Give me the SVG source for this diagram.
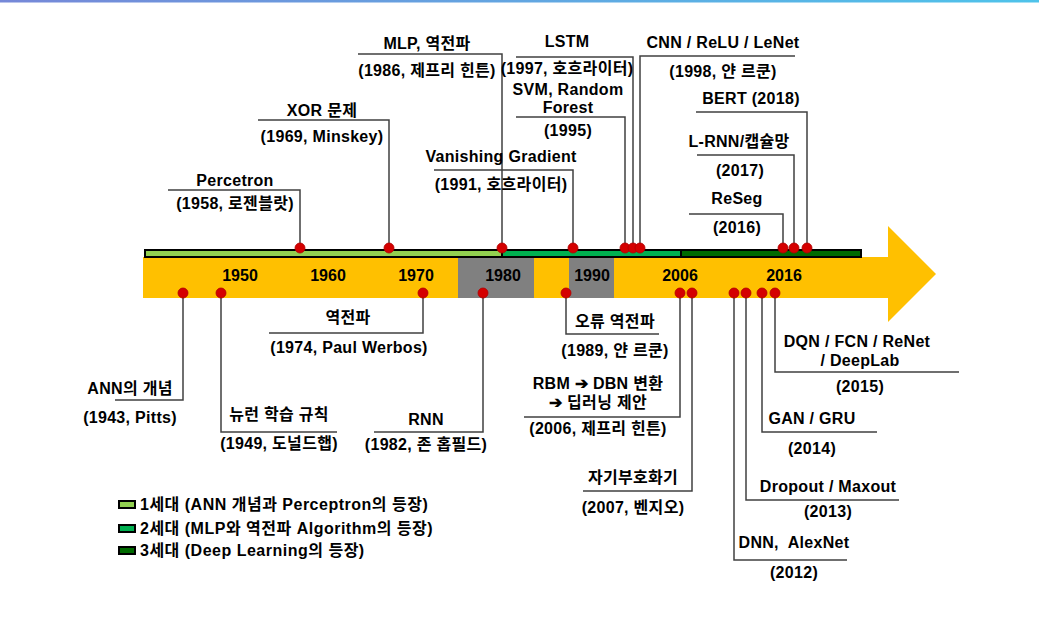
<svg xmlns="http://www.w3.org/2000/svg" width="1039" height="618" viewBox="0 0 1039 618">
<defs>
<linearGradient id="topbar" x1="0" y1="0" x2="1" y2="0">
<stop offset="0" stop-color="#7688d8"/>
<stop offset="1" stop-color="#4ec3ea"/>
</linearGradient>
<style>
text{font-family:'Liberation Sans','Noto Sans CJK KR',sans-serif;font-weight:bold;font-size:16px;fill:#000;text-anchor:middle;letter-spacing:0.3px}
.leg{text-anchor:start;letter-spacing:0.5px}
.conn path{fill:none;stroke:#404040;stroke-width:1.5}
.dot{fill:#d40000;stroke:#b00000;stroke-width:0.8}
.yr text{letter-spacing:0}
</style>
</defs>
<rect x="0" y="0" width="1039" height="2.5" fill="url(#topbar)"/>
<g id="timeline">
<polygon points="143,257 888,257 888,226 936,274 888,322 888,298 143,298" fill="#ffc000"/>
<rect x="458" y="258" width="76" height="40" fill="#808080"/>
<rect x="569" y="258" width="45" height="40" fill="#808080"/>
<g class="yr">
<text x="240" y="281">1950</text>
<text x="328" y="281">1960</text>
<text x="416" y="281">1970</text>
<text x="503" y="281">1980</text>
<text x="592" y="281">1990</text>
<text x="680" y="281">2006</text>
<text x="784" y="281">2016</text>
</g>
<rect x="145" y="250" width="357" height="7" fill="#92d050"/>
<rect x="502" y="250" width="179" height="7" fill="#00b050"/>
<rect x="681" y="250" width="180" height="7" fill="#006a00"/>
<rect x="145" y="250" width="716" height="7" fill="none" stroke="#000" stroke-width="2"/>
<line x1="502" y1="250" x2="502" y2="258" stroke="#000" stroke-width="2"/>
<line x1="681" y1="250" x2="681" y2="258" stroke="#000" stroke-width="2"/>
</g>
<g class="conn" id="connectors">
<path d="M168 190 H300 V248"/>
<path d="M258 120 H389 V248"/>
<path d="M358 54 H502 V248"/>
<path d="M434 170 H573 V248"/>
<path d="M516 57 H633 V248"/>
<path d="M516 117 H625 V248"/>
<path d="M795 56 H640 V248"/>
<path d="M696 112 H807 V248"/>
<path d="M697 155 H794 V248"/>
<path d="M689 214 H783 V248"/>
<path d="M183 293 V400 H115"/>
<path d="M221 293 V432 H337"/>
<path d="M423 293 V333 H269"/>
<path d="M483 293 V432 H374"/>
<path d="M566 293 V334 H659"/>
<path d="M680 293 V417 H524"/>
<path d="M692 293 V491 H583"/>
<path d="M734 293 V560 H847"/>
<path d="M746 293 V500 H899"/>
<path d="M762 293 V432 H877"/>
<path d="M775 293 V372 H959"/>
</g>
<g id="dots">
<circle class="dot" cx="300" cy="248" r="5"/>
<circle class="dot" cx="389" cy="248" r="5"/>
<circle class="dot" cx="502" cy="248" r="5"/>
<circle class="dot" cx="573" cy="248" r="5"/>
<circle class="dot" cx="625" cy="248" r="5"/>
<circle class="dot" cx="633" cy="248" r="5"/>
<circle class="dot" cx="640" cy="248" r="5"/>
<circle class="dot" cx="783" cy="248" r="5"/>
<circle class="dot" cx="794" cy="248" r="5"/>
<circle class="dot" cx="807" cy="248" r="5"/>
<circle class="dot" cx="183" cy="293" r="5"/>
<circle class="dot" cx="221" cy="293" r="5"/>
<circle class="dot" cx="423" cy="293" r="5"/>
<circle class="dot" cx="483" cy="293" r="5"/>
<circle class="dot" cx="566" cy="293" r="5"/>
<circle class="dot" cx="680" cy="293" r="5"/>
<circle class="dot" cx="692" cy="293" r="5"/>
<circle class="dot" cx="734" cy="293" r="5"/>
<circle class="dot" cx="746" cy="293" r="5"/>
<circle class="dot" cx="762" cy="293" r="5"/>
<circle class="dot" cx="775" cy="293" r="5"/>
</g>
<g id="n-percetron"><text x="235" y="186">Percetron</text><text x="235" y="209">(1958, 로젠블랏)</text></g>
<g id="n-xor"><text x="322" y="116">XOR 문제</text><text x="322" y="142">(1969, Minskey)</text></g>
<g id="n-mlp"><text x="427" y="49">MLP, 역전파</text><text x="427" y="76">(1986, 제프리 힌튼)</text></g>
<g id="n-vanishing"><text x="501" y="162">Vanishing Gradient</text><text x="501" y="190">(1991, 호흐라이터)</text></g>
<g id="n-lstm"><text x="567" y="47">LSTM</text><text x="567" y="74">(1997, 호흐라이터)</text></g>
<g id="n-svm"><text x="568" y="95">SVM, Random</text><text x="568" y="113">Forest</text><text x="568" y="136">(1995)</text></g>
<g id="n-cnn"><text x="723" y="48">CNN / ReLU / LeNet</text><text x="723" y="77">(1998, 얀 르쿤)</text></g>
<g id="n-bert"><text x="751" y="104">BERT (2018)</text></g>
<g id="n-lrnn"><text x="739" y="147">L-RNN/캡슐망</text><text x="740" y="176">(2017)</text></g>
<g id="n-reseg"><text x="737" y="204">ReSeg</text><text x="737" y="233">(2016)</text></g>
<g id="n-ann"><text x="130" y="394">ANN의 개념</text><text x="130" y="423">(1943, Pitts)</text></g>
<g id="n-neuron"><text x="279" y="420">뉴런 학습 규칙</text><text x="279" y="449">(1949, 도널드햅)</text></g>
<g id="n-backprop"><text x="348" y="323">역전파</text><text x="349" y="353">(1974, Paul Werbos)</text></g>
<g id="n-rnn"><text x="426" y="425">RNN</text><text x="426" y="450">(1982, 존 홉필드)</text></g>
<g id="n-errbp"><text x="615" y="327">오류 역전파</text><text x="615" y="356">(1989, 얀 르쿤)</text></g>
<g id="n-rbm"><text x="598" y="389">RBM ➔ DBN 변환</text><text x="598" y="408">➔ 딥러닝 제안</text><text x="598" y="434">(2006, 제프리 힌튼)</text></g>
<g id="n-ae"><text x="633" y="483">자기부호화기</text><text x="633" y="513">(2007, 벤지오)</text></g>
<g id="n-dnn"><text x="794" y="548">DNN,&#160; AlexNet</text><text x="794" y="578">(2012)</text></g>
<g id="n-dropout"><text x="828" y="492">Dropout / Maxout</text><text x="828" y="517">(2013)</text></g>
<g id="n-gan"><text x="812" y="424">GAN / GRU</text><text x="812" y="454">(2014)</text></g>
<g id="n-dqn"><text x="857" y="347">DQN / FCN / ReNet</text><text x="860" y="366">/ DeepLab</text><text x="860" y="392">(2015)</text></g>
<g id="legend">
<rect x="119" y="501" width="16" height="7" fill="#92d050" stroke="#000" stroke-width="2"/>
<rect x="119" y="525" width="16" height="7" fill="#00b050" stroke="#000" stroke-width="2"/>
<rect x="119" y="547" width="16" height="7" fill="#006a00" stroke="#000" stroke-width="2"/>
<text class="leg" x="140" y="510">1세대 (ANN 개념과 Perceptron의 등장)</text>
<text class="leg" x="140" y="534">2세대 (MLP와 역전파 Algorithm의 등장)</text>
<text class="leg" x="140" y="556">3세대 (Deep Learning의 등장)</text>
</g>
</svg>
